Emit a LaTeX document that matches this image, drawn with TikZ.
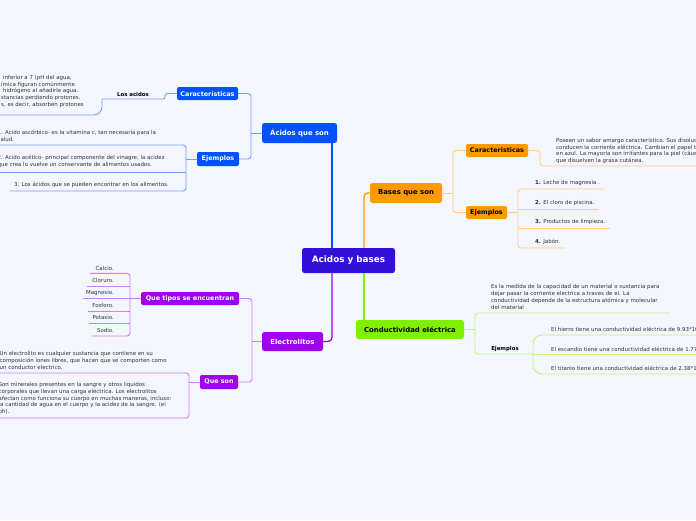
\documentclass[tikz,border=0pt]{standalone}
\usepackage{fontspec}
\setmainfont{DejaVu Sans}
\usepackage{xcolor}
\usetikzlibrary{positioning}
\definecolor{paper}{RGB}{243,246,253}
\definecolor{indigo}{RGB}{51,17,214}
\definecolor{azul}{RGB}{0,82,255}
\definecolor{naranja}{RGB}{255,153,0}
\definecolor{morado}{RGB}{160,0,240}
\definecolor{lima}{RGB}{128,240,0}
\definecolor{ink}{RGB}{50,50,50}

\begin{document}
\begin{tikzpicture}[x=1pt, y=-1pt,
  topic/.style={rounded corners=2.5pt, inner sep=0pt, text=white,
                font=\bfseries\fontsize{6.9}{8}\selectfont},
  subtopic/.style={topic, rounded corners=2pt, font=\bfseries\fontsize{6.4}{7}\selectfont},
  leaf/.style={inner sep=0pt, text=ink, align=left, font=\fontsize{5.45}{6.7}\selectfont},
  leafb/.style={inner sep=0pt, text=black, font=\bfseries\fontsize{5.4}{6}\selectfont},
  azulM/.style={draw=azul, line width=1.3pt},
  azulL/.style={draw=azul!55, line width=0.9pt},
  naranjaM/.style={draw=naranja, line width=1.3pt},
  naranjaL/.style={draw=naranja!50, line width=0.9pt},
  moradoM/.style={draw=morado, line width=1.3pt},
  moradoL/.style={draw=morado!50, line width=0.9pt},
  limaM/.style={draw=lima, line width=1.3pt},
  limaL/.style={draw=lima!50, line width=0.9pt}
]
  \useasboundingbox (0,0) rectangle (696,520);
  \clip (0,0) rectangle (696,520);
  \fill[paper] (0,0) rectangle (696,520);

  % main topics
  \node[topic, fill=indigo, minimum width=93pt, minimum height=25pt,
        font=\bfseries\fontsize{8.8}{10}\selectfont] (centro) at (348.5,260.5) {Acidos y bases};
  \node[topic, fill=azul, minimum width=75pt, minimum height=20pt] (acidos) at (299.5,133) {Ácidos que son};
  \node[topic, fill=naranja, text=black, minimum width=72pt, minimum height=20pt] (bases) at (406,193) {Bases que son};
  \node[topic, fill=morado, minimum width=61pt, minimum height=19pt] (electro) at (292.5,341.5) {Electrolitos};
  \node[topic, fill=lima, text=black, minimum width=108pt, minimum height=19pt] (conduct) at (410,329.5) {Conductividad eléctrica};

  % subtopics
  \node[subtopic, fill=azul, minimum width=61pt, minimum height=13pt] (carAcid) at (207.5,93.5) {Características};
  \node[subtopic, fill=azul, minimum width=42pt, minimum height=14pt] (ejAcid) at (218,159) {Ejemplos};
  \node[subtopic, fill=morado, minimum width=98pt, minimum height=13pt] (tipos) at (190,298.5) {Que tipos se encuentran};
  \node[subtopic, fill=morado, minimum width=38pt, minimum height=14pt] (queSon) at (219,382) {Que son};
  \node[subtopic, fill=naranja, text=black, minimum width=62pt, minimum height=13pt] (carBase) at (497,150.5) {Caracteristicas};
  \node[subtopic, fill=naranja, text=black, minimum width=41pt, minimum height=13pt] (ejBase) at (486.5,212.5) {Ejemplos};

  % acidos
  \node[leafb] (losAcidos) at (133,94) {Los acidos};
  \node[leaf, anchor=north west] (acTxt) at (1,75) {\hspace*{2pt}inferior a 7 (pH del agua,\\ímica figuran comúnmente\\\hspace*{2pt}hidrógeno al añadirle agua.\\stancias perdiendo protones.\\s, es decir, absorben protones};
  \node[leaf, anchor=north west] (ej1) at (-2.5,130.3) {1. Acido ascórbico- es la vitamina c, tan necesaria para la\\salud.};
  \node[leaf, anchor=north west] (ej2) at (-2.5,155.3) {2. Acido acético- principal componente del vinagre, la acidez\\que crea lo vuelve un conservante de alimentos usados.};
  \node[leaf, anchor=north west] (ej3) at (14,182.3) {3. Los ácidos que se pueden encontrar en los alimentos.};

  % bases
  \node[leaf, anchor=north west] (baseTxt) at (556,138) {Poseen un sabor amargo característico. Sus disoluciones\\conducen la corriente eléctrica. Cambian el papel tornasol rojo\\en azul. La mayoría son irritantes para la piel (cáusticos) ya\\que disuelven la grasa cutánea.};
  \node[leaf, anchor=west] (b1) at (535,183.3) {\textbf{1.} Leche de magnesia .};
  \node[leaf, anchor=west] (b2) at (535,203.3) {\textbf{2.} El cloro de piscina.};
  \node[leaf, anchor=west] (b3) at (535,222.3) {\textbf{3.} Productos de limpieza.};
  \node[leaf, anchor=west] (b4) at (535,241.7) {\textbf{4.} Jabón.};

  % electrolitos
  \node[leaf, anchor=east] (calcio) at (114,268.3) {Calcio.};
  \node[leaf, anchor=east] (cloruro) at (114,280) {Cloruro.};
  \node[leaf, anchor=east] (magnesio) at (114,292.7) {Magnesio.};
  \node[leaf, anchor=east] (fosforo) at (114,305) {Fosforo.};
  \node[leaf, anchor=east] (potasio) at (114,317.7) {Potasio.};
  \node[leaf, anchor=east] (sodio) at (114,330) {Sodio.};
  \node[leaf, anchor=north west] (qs1) at (-0.5,351.3) {Un electrolito es cualquier sustancia que contiene en su\\composición iones libres, que hacen que se comporten como\\un conductor electrico.};
  \node[leaf, anchor=north west] (qs2) at (-1.5,382.3) {Son minerales presentes en la sangre y otros líquidos\\corporales que llevan una carga eléctrica. Los electrolitos\\afectan como funciona su cuerpo en muchas maneras, incluso:\\la cantidad de agua en el cuerpo y la acidez de la sangre. (el\\ph).};

  % conductividad
  \node[leaf, anchor=north west] (condTxt) at (491,284.6) {Es la medida de la capacidad de un material o sustancia para\\dejar pasar la corriente electrica a traves de el. La\\conductividad depende de la estructura atómica y molecular\\del material};
  \node[leafb] (ejCond) at (505,349) {Ejemplos};
  \node[leaf, anchor=west] (g1) at (551,329) {El hierro tiene una conductividad eléctrica de 9.93*10\textsuperscript{6} S/m};
  \node[leaf, anchor=west] (g2) at (551,349) {El escandio tiene una conductividad eléctrica de 1.77*10\textsuperscript{6} S/m};
  \node[leaf, anchor=west] (g3) at (551,368.3) {El titanio tiene una conductividad eléctrica de 2.38*10\textsuperscript{6} S/m};

  % main connectors
  \coordinate (cA) at ([xshift=-16.5pt]centro.north);
  \coordinate (cB) at ([xshift=15.5pt]centro.north);
  \coordinate (cE) at ([xshift=-16.5pt]centro.south);
  \coordinate (cC) at ([xshift=15.5pt]centro.south);
  \draw[azulM] (cA) -- (cA |- acidos.south);
  \draw[naranjaM, rounded corners=4pt] (cB) |- (bases.west);
  \draw[moradoM, rounded corners=4pt] (cE) |- (electro.east);
  \draw[limaM] (cC) -- (cC |- conduct.north);

  % acidos branches
  \coordinate (aJ) at (251,133);
  \draw[azulL] (acidos.west) -- (aJ);
  \draw[azulL, rounded corners=3pt] (carAcid.east) -| (aJ) |- (ejAcid.east);
  \coordinate (laR) at (165,99);
  \coordinate (laL) at (102,99);
  \coordinate (acU) at (-2,115);
  \draw[azulL, rounded corners=2pt] (carAcid.west) -| (laR) -- (laL);
  \draw[azulL, rounded corners=8pt] (laL) |- (acU);
  \coordinate (eJ) at (186,159);
  \coordinate (e1U) at (-2,145);
  \coordinate (e2U) at (-2,172);
  \coordinate (e3U) at (10,191);
  \draw[azulL] (ejAcid.west) -- (eJ);
  \draw[azulL, rounded corners=3pt] (e1U) -| (eJ) |- (e3U);
  \draw[azulL] (e2U) -- (e2U -| eJ);

  % bases branches
  \coordinate (bJ) at (453,193);
  \draw[naranjaL] (bases.east) -- (bJ);
  \draw[naranjaL, rounded corners=3pt] (carBase.west) -| (bJ) |- (ejBase.west);
  \coordinate (bK) at (540,166);
  \coordinate (bU) at (700,166);
  \draw[naranjaL, rounded corners=3pt] (carBase.east) -| (bK) -- (bU);
  \coordinate (ebJ) at (518,212.5);
  \coordinate (b1U) at (604,189);
  \coordinate (b2U) at (599,209);
  \coordinate (b3U) at (610,228);
  \coordinate (b4U) at (565,248);
  \draw[naranjaL] (ejBase.east) -- (ebJ);
  \draw[naranjaL, rounded corners=3pt] (b1U) -| (ebJ) |- (b4U);
  \draw[naranjaL] (b2U) -- (b2U -| ebJ);
  \draw[naranjaL] (b3U) -- (b3U -| ebJ);

  % electrolitos branches
  \coordinate (elJ) at (252,341.5);
  \draw[moradoL] (electro.west) -- (elJ);
  \draw[moradoL, rounded corners=3pt] (tipos.east) -| (elJ) |- (queSon.east);
  \coordinate (tJ) at (130,298.5);
  \coordinate (t1U) at (90,273.3);
  \coordinate (t2U) at (87,286);
  \coordinate (t3U) at (83,298.5);
  \coordinate (t4U) at (88,311);
  \coordinate (t5U) at (89,323.3);
  \coordinate (t6U) at (92,336);
  \draw[moradoL] (tipos.west) -- (tJ);
  \draw[moradoL, rounded corners=3pt] (t1U) -| (tJ) |- (t6U);
  \draw[moradoL] (t2U) -- (t2U -| tJ);
  \draw[moradoL] (t3U) -- (t3U -| tJ);
  \draw[moradoL] (t4U) -- (t4U -| tJ);
  \draw[moradoL] (t5U) -- (t5U -| tJ);
  \coordinate (qJ) at (189,382);
  \coordinate (q1U) at (-2,373);
  \coordinate (q2U) at (-2,418);
  \draw[moradoL] (queSon.west) -- (qJ);
  \draw[moradoL, rounded corners=3pt] (q1U) -| (qJ) |- (q2U);

  % conductividad branches
  \coordinate (gJ) at (475,329.5);
  \coordinate (gU) at (670,313);
  \coordinate (gE) at (533,354);
  \draw[limaL] (conduct.east) -- (gJ);
  \draw[limaL, rounded corners=3pt] (gU) -| (gJ) |- (gE);
  \coordinate (g1U) at (700,335);
  \coordinate (g2U) at (700,354);
  \coordinate (g3U) at (700,374);
  \draw[limaL, rounded corners=9pt] (gE) |- (g1U);
  \draw[limaL] (gE) -- (g2U);
  \draw[limaL, rounded corners=9pt] (gE) |- (g3U);
\end{tikzpicture}
\end{document}
